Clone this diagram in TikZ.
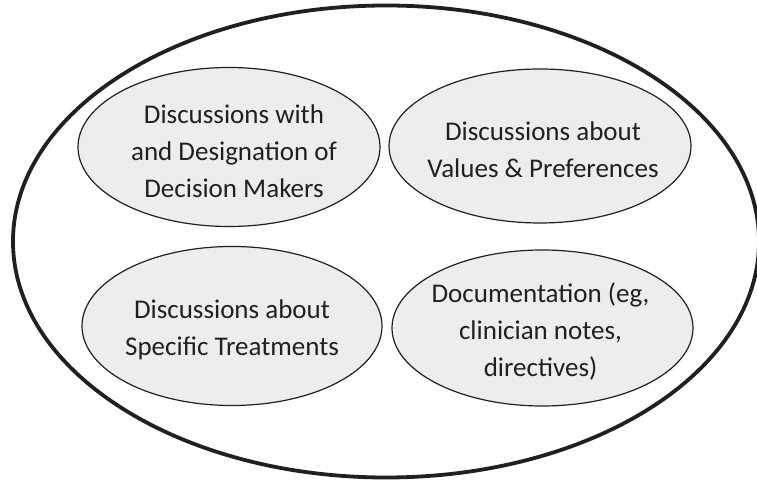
\documentclass[tikz,border=0pt]{standalone}
\usepackage{fontspec}
\setmainfont{Carlito}
\usetikzlibrary{shapes.geometric}
\definecolor{bubblefill}{HTML}{EDEDED}
\definecolor{inkline}{HTML}{231F20}
\begin{document}
\begin{tikzpicture}[x=1pt,y=1pt,
  bubble/.style={ellipse, draw=inkline, line width=1.2pt, fill=bubblefill, inner sep=0pt},
  caption/.style={inner sep=0pt, align=center, text=inkline,
    font=\fontsize{27}{37}\selectfont, yshift=-4pt},
  outerring/.style={ellipse, draw=inkline, line width=3.8pt, inner sep=0pt}]
\useasboundingbox (0,0) rectangle (757,482);
\clip (0,0) rectangle (757,482);
% enclosing ring
\node[outerring, minimum width=746pt, minimum height=472pt] (ring) at (386,240.5) {};
% four topic bubbles
\node[bubble, minimum width=302pt, minimum height=159pt] (decision) at (229,335) {};
\node[caption, xshift=5pt] (decisiontext) at (decision.center)
  {Discussions with\\and Designation of\\Decision Makers};
\node[bubble, minimum width=302pt, minimum height=154pt] (values) at (540,336) {};
\node[caption, xshift=3pt] (valuestext) at (values.center)
  {Discussions about\\Values \& Preferences};
\node[bubble, minimum width=300pt, minimum height=159pt] (treat) at (232,156) {};
\node[caption] (treattext) at (treat.center)
  {Discussions about\\Specific Treatments};
\node[bubble, minimum width=301pt, minimum height=156pt] (docs) at (542.5,154) {};
\node[caption, xshift=-2pt] (docstext) at (docs.center)
  {Documentation (eg,\\clinician notes,\\directives)};
\end{tikzpicture}
\end{document}
